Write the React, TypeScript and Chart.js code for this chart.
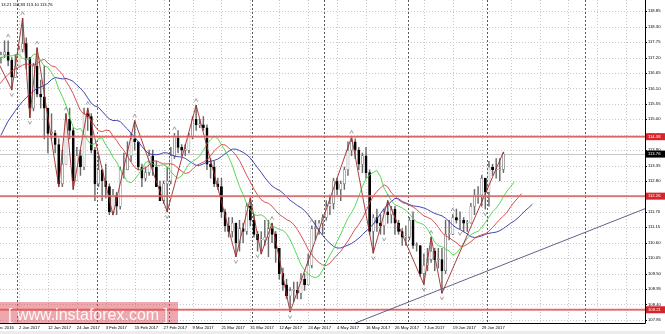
import React, { useEffect, useRef } from "react";
import { Chart, registerables } from "chart.js";

Chart.register(...registerables);

// ---------- data ----------
const FIRST_BAR = "14 Dec 2016";

const opens = [
  115.2, 117.1, 118.1, 117.9, 117.0,
  117.9, 117.5, 117.5, 117.2, 117.3, 117.4, 117.1, 116.5,
  116.9, 117.5, 117.7, 117.2, 115.4, 116.9, 115.9, 115.8, 115.4, 114.5,
  114.5, 114.1, 112.7, 113.4, 115.0, 114.6, 112.8, 113.7, 113.3, 115.2,
  115.1, 113.9, 112.7, 113.2, 112.8, 112.6, 111.7, 112.3, 111.9, 113.2,
  113.2, 113.7, 114.3, 114.2, 113.3, 112.9, 113.1, 113.7, 113.3, 112.6,
  112.1, 112.7, 112.8, 113.7, 114.4, 114.0, 113.9, 113.9, 114.4, 115.0,
  114.8, 114.8, 114.7, 113.4, 113.3, 112.7, 112.6, 111.7, 111.2, 111.0,
  111.3, 110.6, 111.1, 111.0, 111.9, 111.4, 110.9, 110.7, 110.7, 110.8,
  111.1, 110.9, 110.4, 109.5, 109.1, 108.7, 108.9, 108.9, 108.8, 109.3,
  109.1, 109.8, 111.1, 111.1, 111.3, 111.5, 111.9, 112.0, 112.8, 112.5,
  112.7, 113.2, 113.9, 114.2, 113.9, 113.4, 113.7, 113.1, 111.0, 111.5,
  111.3, 111.2, 111.7, 111.6, 111.8, 111.3, 111.0, 110.8, 110.8, 111.4,
  110.5, 110.5, 109.5, 109.8, 110.0, 110.3, 110.0, 110.0, 109.6, 110.9,
  110.9, 111.5, 111.4, 111.4, 111.3, 111.3, 111.9, 112.3, 112.3, 112.9,
  112.4, 113.3, 113.2, 113.2, 113.21,
];
const highs = [
  117.2, 118.66, 118.3, 118.0, 118.2,
  118.2, 117.8, 117.7, 117.4, 117.8, 117.8, 117.2, 117.3,
  117.6, 118.6, 117.9, 117.2, 117.0, 117.55, 116.4, 116.9, 115.4, 115.2,
  114.6, 114.3, 113.9, 115.2, 115.4, 114.7, 114.0, 113.9, 115.4, 115.4,
  115.2, 114.0, 113.7, 113.2, 113.4, 112.7, 112.5, 112.4, 113.3, 113.8,
  114.2, 114.5, 114.95, 114.2, 113.4, 113.3, 113.9, 113.9, 113.5, 112.8,
  112.8, 113.3, 114.0, 114.5, 114.6, 114.1, 114.1, 114.5, 115.1, 115.5,
  115.0, 115.1, 114.8, 113.6, 113.5, 112.9, 112.9, 111.8, 111.5, 111.5,
  111.3, 111.4, 111.3, 112.0, 112.2, 111.6, 111.0, 111.0, 111.4, 111.4,
  111.3, 111.0, 110.4, 109.7, 109.3, 109.0, 109.2, 109.2, 109.5, 109.5,
  110.2, 111.2, 111.4, 111.4, 111.6, 112.1, 112.3, 112.9, 112.9, 112.8,
  113.3, 114.2, 114.37, 114.3, 114.0, 113.8, 114.0, 113.2, 111.6, 111.8,
  111.6, 111.8, 112.1, 111.9, 111.9, 111.4, 111.1, 111.2, 111.5, 111.7,
  110.6, 110.5, 110.2, 110.4, 110.8, 110.4, 110.4, 110.4, 111.4, 111.4,
  111.6, 111.8, 111.7, 111.5, 111.4, 112.0, 112.5, 112.6, 113.0, 112.9,
  113.5, 113.4, 113.6, 113.6, 113.83,
];
const lows = [
  114.7, 117.0, 117.6, 116.6, 116.9,
  116.9, 117.3, 117.0, 117.0, 117.2, 116.9, 116.05, 116.5,
  116.9, 117.4, 116.8, 115.06, 115.3, 115.8, 115.4, 114.3, 113.8, 114.3,
  113.8, 112.6, 112.6, 113.4, 114.3, 112.5, 112.8, 113.0, 113.2, 114.6,
  113.8, 112.1, 112.6, 112.1, 112.2, 111.6, 111.59, 111.6, 111.8, 112.9,
  113.2, 113.5, 113.9, 113.2, 112.6, 112.8, 113.0, 113.0, 112.6, 112.1,
  112.0, 111.7, 112.7, 113.6, 113.8, 113.7, 113.7, 113.8, 114.3, 114.6,
  114.7, 114.6, 113.2, 112.9, 112.6, 112.5, 111.5, 111.0, 110.8, 110.8,
  110.1, 110.3, 110.6, 110.9, 111.2, 110.8, 110.3, 110.2, 110.5, 110.1,
  110.6, 109.9, 109.3, 108.9, 108.6, 108.13, 108.5, 108.6, 108.6, 108.9,
  109.1, 109.7, 110.7, 110.9, 110.9, 111.4, 111.6, 111.8, 112.3, 112.1,
  112.5, 113.0, 113.7, 113.6, 113.2, 113.1, 112.9, 110.9, 110.23, 111.0,
  110.9, 110.9, 111.3, 111.3, 110.9, 110.9, 110.5, 110.5, 110.7, 110.4,
  110.3, 109.4, 109.11, 109.6, 109.9, 109.6, 109.7, 108.8, 109.5, 110.7,
  110.9, 111.3, 111.1, 111.0, 111.0, 111.3, 111.6, 112.0, 111.9, 111.8,
  111.9, 113.0, 112.9, 112.8, 113.10,
];
const closes = [
  117.1, 118.1, 117.9, 117.0, 117.9,
  117.5, 117.5, 117.3, 117.3, 117.4, 117.1, 116.5, 116.9,
  117.5, 117.7, 117.2, 115.4, 116.9, 115.9, 115.8, 115.4, 114.5, 114.5,
  114.1, 112.7, 113.4, 115.0, 114.6, 112.8, 113.7, 113.3, 115.2, 115.1,
  113.9, 112.7, 113.2, 112.8, 112.6, 111.7, 112.3, 111.9, 113.2, 113.2,
  113.7, 114.3, 114.2, 113.3, 112.9, 113.1, 113.7, 113.3, 112.6, 112.1,
  112.7, 112.8, 113.7, 114.4, 114.0, 113.9, 113.9, 114.4, 115.0, 114.8,
  114.8, 114.7, 113.4, 113.3, 112.7, 112.6, 111.7, 111.2, 111.0, 111.3,
  110.6, 111.1, 111.0, 111.9, 111.4, 110.9, 110.7, 110.7, 110.8, 111.1,
  110.9, 110.4, 109.5, 109.1, 108.7, 108.9, 108.9, 108.8, 109.3, 109.1,
  109.8, 111.1, 111.1, 111.3, 111.5, 111.9, 112.0, 112.8, 112.5, 112.7,
  113.2, 113.9, 114.2, 113.9, 113.4, 113.7, 113.1, 111.0, 111.5, 111.3,
  111.2, 111.7, 111.6, 111.8, 111.3, 111.0, 110.8, 110.8, 111.4, 110.5,
  110.5, 109.5, 109.8, 110.0, 110.3, 110.0, 110.0, 109.6, 110.9, 110.9,
  111.5, 111.4, 111.4, 111.3, 111.3, 111.9, 112.3, 112.3, 112.9, 112.4,
  113.3, 113.2, 113.2, 113.2, 113.76,
];

const tickLabels = [
  "21 Dec 2016", "2 Jan 2017", "12 Jan 2017", "24 Jan 2017", "3 Feb 2017",
  "15 Feb 2017", "27 Feb 2017", "9 Mar 2017", "21 Mar 2017", "31 Mar 2017",
  "12 Apr 2017", "24 Apr 2017", "4 May 2017", "16 May 2017", "26 May 2017",
  "7 Jun 2017", "19 Jun 2017", "29 Jun 2017",
];
const priceTicks = [
  107.85, 108.4, 108.95, 109.5, 110.05, 110.6, 111.15, 111.7, 112.25, 112.8,
  113.35, 113.9, 114.45, 115.0, 115.55, 116.1, 116.65, 117.2, 117.75, 118.3, 118.85,
];
const levelPrices = [114.38, 112.26, 108.21];
const bidPrice = 113.76;
const headerText = "13.21 113.83 113.10 113.76";
const watermarkText = "[ www.instaforex.com ]";
const separatorDates = [
  "2 Jan 2017", "1 Feb 2017", "1 Mar 2017", "3 Apr 2017", "1 May 2017",
  "1 Jun 2017", "3 Jul 2017", "9 Aug 2017",
];

const zigzagDates = [
  "15 Dec 2016", "29 Dec 2016", "3 Jan 2017", "5 Jan 2017", "9 Jan 2017",
  "17 Jan 2017", "19 Jan 2017", "23 Jan 2017", "27 Jan 2017", "7 Feb 2017",
  "15 Feb 2017", "28 Feb 2017", "10 Mar 2017", "27 Mar 2017", "31 Mar 2017",
  "5 Apr 2017", "10 Apr 2017", "17 Apr 2017", "10 May 2017", "18 May 2017",
  "24 May 2017", "7 Jun 2017", "9 Jun 2017", "14 Jun 2017", "7 Jul 2017",
];
const zigzagPrices = [
  118.66, 116.05, 118.6, 115.06, 117.55,
  112.6, 115.2, 112.5, 115.4, 111.59,
  114.95, 111.7, 115.5, 110.1, 112.2,
  110.2, 111.3, 108.13, 114.37, 110.23,
  112.1, 109.11, 110.8, 108.8, 113.83,
];

const fractalUpDates = [
  "28 Dec 2016", "3 Jan 2017", "9 Jan 2017", "19 Jan 2017", "27 Jan 2017",
  "15 Feb 2017", "2 Mar 2017", "10 Mar 2017", "10 Apr 2017", "25 Apr 2017",
  "10 May 2017", "24 May 2017", "9 Jun 2017", "19 Jun 2017",
];
const fractalDownDates = [
  "29 Dec 2016", "5 Jan 2017", "28 Feb 2017", "27 Mar 2017", "4 Apr 2017",
  "17 Apr 2017", "18 May 2017", "23 May 2017", "7 Jun 2017", "14 Jun 2017",
  "21 Jun 2017", "30 Jun 2017",
];

const trendDates = ["22 May 2017", "7 Jul 2017"];
const trendPrices = [108.09, 109.82];

// Alligator (SMMA of median price) state before the first bar
const jawSeed = 114.3;
const teethSeed = 115.6;
const lipsSeed = 116.4;

// ---------- helpers ----------
const MONTHS = ["Jan", "Feb", "Mar", "Apr", "May", "Jun", "Jul", "Aug", "Sep", "Oct", "Nov", "Dec"];
function tradingDays(start: string, count: number): string[] {
  const [d, m, y] = start.split(" ");
  let t = Date.UTC(+y, MONTHS.indexOf(m), +d);
  const out: string[] = [];
  while (out.length < count) {
    const dt = new Date(t);
    const wd = dt.getUTCDay();
    if (wd !== 0 && wd !== 6) out.push(`${dt.getUTCDate()} ${MONTHS[dt.getUTCMonth()]} ${dt.getUTCFullYear()}`);
    t += 86400000;
  }
  return out;
}
const dates = tradingDays(FIRST_BAR, 220);
const idx = (d: string) => dates.indexOf(d);

function smma(vals: number[], n: number, seed: number): number[] {
  const out: number[] = [];
  let s = seed;
  for (const v of vals) {
    s = (s * (n - 1) + v) / n;
    out.push(s);
  }
  return out;
}

const FONT = "Liberation Sans";
const BAR_PX = 3.615;
const JAN2 = idx("2 Jan 2017");
const X_MIN = JAN2 - 19 / BAR_PX;
const X_MAX = X_MIN + 645 / BAR_PX;

export default function App() {
  const ref = useRef<HTMLCanvasElement | null>(null);

  useEffect(() => {
    const canvas = ref.current;
    if (!canvas) return;

    const med = highs.map((h, i) => (h + lows[i]) / 2);
    const jaw = smma(med, 13, jawSeed).map((v, i) => ({ x: i + 8, y: v }));
    const teeth = smma(med, 8, teethSeed).map((v, i) => ({ x: i + 5, y: v }));
    const lips = smma(med, 5, lipsSeed).map((v, i) => ({ x: i + 3, y: v }));

    const wicks = closes.map((_, i) => ({ x: i, y: [lows[i], highs[i]] }));
    const bodies = closes.map((c, i) => ({ x: i, y: [opens[i], c] }));
    const bull = closes.map((c, i) => c >= opens[i]);

    const zz = zigzagDates.map((d, i) => ({ x: idx(d), y: zigzagPrices[i] }));

    const tickIdx = tickLabels.map((t) => idx(t));

    const bgPlugin = {
      id: "bg",
      beforeDraw(chart: any) {
        const { ctx, width, height } = chart;
        ctx.save();
        ctx.fillStyle = "#ffffff";
        ctx.fillRect(0, 0, width, height);
        ctx.fillStyle = "#ececec";
        ctx.fillRect(0, 331, width, height - 331);
        ctx.restore();
      },
    };

    const gridPlugin = {
      id: "mtgrid",
      beforeDatasetsDraw(chart: any) {
        const { ctx, chartArea: a, scales } = chart;
        const xs = scales.x, ys = scales.y;
        ctx.save();
        ctx.beginPath();
        ctx.rect(a.left, a.top, a.right - a.left, a.bottom - a.top);
        ctx.clip();
        ctx.lineWidth = 1;
        ctx.strokeStyle = "#c8c8c8";
        ctx.setLineDash([1, 2]);
        for (const v of priceTicks) {
          const y = Math.round(ys.getPixelForValue(v)) + 0.5;
          ctx.beginPath();
          ctx.moveTo(a.left, y);
          ctx.lineTo(a.right, y);
          ctx.stroke();
        }
        for (let k = tickIdx[0]; k < X_MAX; k += 8) {
          const x = Math.round(xs.getPixelForValue(k)) + 0.5;
          ctx.beginPath();
          ctx.moveTo(x, a.top);
          ctx.lineTo(x, a.bottom);
          ctx.stroke();
        }
        ctx.strokeStyle = "#5a5a5a";
        ctx.setLineDash([2, 2]);
        for (const d of separatorDates) {
          const x = Math.round(xs.getPixelForValue(idx(d) - 0.5)) + 0.5;
          ctx.beginPath();
          ctx.moveTo(x, a.top);
          ctx.lineTo(x, a.bottom);
          ctx.stroke();
        }
        ctx.setLineDash([]);
        ctx.strokeStyle = "#c8c8c8";
        const by = Math.round(ys.getPixelForValue(bidPrice)) + 0.5;
        ctx.beginPath();
        ctx.moveTo(a.left, by);
        ctx.lineTo(a.right, by);
        ctx.stroke();
        ctx.restore();
      },
      afterDatasetsDraw(chart: any) {
        const { ctx, chartArea: a, scales } = chart;
        const xs = scales.x, ys = scales.y;
        ctx.save();
        ctx.beginPath();
        ctx.rect(a.left, a.top, a.right - a.left, a.bottom - a.top);
        ctx.clip();
        for (const p of levelPrices) {
          const y = ys.getPixelForValue(p);
          ctx.strokeStyle = "rgba(235,150,150,0.7)";
          ctx.lineWidth = 2.4;
          ctx.beginPath();
          ctx.moveTo(a.left, y);
          ctx.lineTo(a.right, y);
          ctx.stroke();
          ctx.strokeStyle = "#cc3b3b";
          ctx.lineWidth = 0.8;
          ctx.beginPath();
          ctx.moveTo(a.left, y);
          ctx.lineTo(a.right, y);
          ctx.stroke();
        }
        const i0 = idx(trendDates[0]), i1 = idx(trendDates[1]);
        const slope = (trendPrices[1] - trendPrices[0]) / (i1 - i0);
        const xa = X_MIN, xb = X_MAX;
        ctx.strokeStyle = "#50507a";
        ctx.lineWidth = 0.9;
        ctx.beginPath();
        ctx.moveTo(xs.getPixelForValue(xa), ys.getPixelForValue(trendPrices[0] + (xa - i0) * slope));
        ctx.lineTo(xs.getPixelForValue(xb), ys.getPixelForValue(trendPrices[0] + (xb - i0) * slope));
        ctx.stroke();
        ctx.strokeStyle = "#8a8a8a";
        ctx.lineWidth = 0.8;
        for (const d of fractalUpDates) {
          const i = idx(d);
          const x = xs.getPixelForValue(i);
          const y = ys.getPixelForValue(highs[i]) - 5;
          ctx.beginPath();
          ctx.moveTo(x - 1.7, y + 1.6);
          ctx.lineTo(x, y - 1.6);
          ctx.lineTo(x + 1.7, y + 1.6);
          ctx.stroke();
        }
        for (const d of fractalDownDates) {
          const i = idx(d);
          const x = xs.getPixelForValue(i);
          const y = ys.getPixelForValue(lows[i]) + 5;
          ctx.beginPath();
          ctx.moveTo(x - 1.7, y - 1.6);
          ctx.lineTo(x, y + 1.6);
          ctx.lineTo(x + 1.7, y - 1.6);
          ctx.stroke();
        }
        ctx.restore();

        ctx.save();
        ctx.strokeStyle = "#000";
        ctx.lineWidth = 1;
        ctx.beginPath();
        ctx.moveTo(a.right + 0.5, 0);
        ctx.lineTo(a.right + 0.5, a.bottom + 0.5);
        ctx.lineTo(0, a.bottom + 0.5);
        ctx.stroke();
        for (const v of priceTicks) {
          const y = Math.round(ys.getPixelForValue(v)) + 0.5;
          ctx.beginPath();
          ctx.moveTo(a.right, y);
          ctx.lineTo(a.right + 2, y);
          ctx.stroke();
        }
        ctx.font = `4.2px "${FONT}"`;
        ctx.textBaseline = "middle";
        const box = (p: number, bg: string) => {
          const y = ys.getPixelForValue(p);
          ctx.fillStyle = bg;
          ctx.fillRect(a.right + 1, y - 3.5, 20, 7);
          ctx.fillStyle = "#fff";
          ctx.fillText(p.toFixed(2), a.right + 3, y);
        };
        for (const p of levelPrices) box(p, "#d8232a");
        box(bidPrice, "#000");
        ctx.fillStyle = "#000";
        ctx.fillText(headerText, 1, 5);
        ctx.fillStyle = "rgba(222,80,90,0.5)";
        ctx.fillRect(0, 302, 178, 21);
        ctx.fillStyle = "rgba(255,255,255,0.92)";
        ctx.font = `16px "${FONT}"`;
        ctx.textBaseline = "alphabetic";
        ctx.fillText(watermarkText, 8, 320);
        ctx.restore();
      },
    };

    const chart = new Chart(canvas, {
      type: "bar",
      data: {
        datasets: [
          {
            type: "line",
            label: "zigzag",
            data: zz,
            borderColor: "#a02a2a",
            borderWidth: 0.9,
            pointRadius: 0,
            order: 0,
          } as any,
          {
            type: "line",
            label: "lips",
            data: lips,
            borderColor: "#44d444",
            borderWidth: 0.9,
            pointRadius: 0,
            order: 1,
          },
          {
            type: "line",
            label: "teeth",
            data: teeth,
            borderColor: "#d24040",
            borderWidth: 0.9,
            pointRadius: 0,
            order: 2,
          },
          {
            type: "line",
            label: "jaw",
            data: jaw,
            borderColor: "#3030aa",
            borderWidth: 0.9,
            pointRadius: 0,
            order: 3,
          },
          {
            type: "bar",
            label: "body",
            data: bodies,
            backgroundColor: bull.map((b) => (b ? "#ffffff" : "#000000")),
            borderColor: bull.map((b) => (b ? "#6a6a6a" : "#000000")),
            borderWidth: 0.6,
            borderSkipped: false,
            barThickness: 2.2,
            minBarLength: 1,
            grouped: false,
            order: 4,
          } as any,
          {
            type: "bar",
            label: "wick",
            data: wicks,
            backgroundColor: "#6a6a6a",
            barThickness: 0.8,
            grouped: false,
            order: 5,
          } as any,
        ],
      },
      options: {
        animation: false,
        responsive: false,
        devicePixelRatio: 1,
        layout: { padding: 0 },
        plugins: { legend: { display: false }, tooltip: { enabled: false } },
        scales: {
          x: {
            type: "linear",
            min: X_MIN,
            max: X_MAX,
            offset: false,
            grid: { display: false, drawTicks: false },
            border: { display: false },
            afterBuildTicks: (s: any) => {
              s.ticks = tickIdx.map((v) => ({ value: v }));
            },
            afterFit: (s: any) => {
              s.height = 11;
              s.paddingLeft = 0;
              s.paddingRight = 0;
            },
            ticks: {
              autoSkip: false,
              maxRotation: 0,
              minRotation: 0,
              align: "start",
              padding: 2,
              color: "#000",
              font: { family: FONT, size: 4.2 },
              callback: (v: any) => dates[Math.round(v)] || "",
            },
          },
          y: {
            type: "linear",
            position: "right",
            min: 107.738,
            max: 119.253,
            grid: { display: false, drawTicks: false },
            border: { display: false },
            afterBuildTicks: (s: any) => {
              s.ticks = priceTicks.map((v) => ({ value: v }));
            },
            afterFit: (s: any) => {
              s.width = 20;
              s.paddingTop = 0;
              s.paddingBottom = 0;
            },
            ticks: {
              autoSkip: false,
              padding: 3,
              color: "#000",
              font: { family: FONT, size: 4.2 },
              callback: (v: any) => Number(v).toFixed(2),
            },
          },
        },
      } as any,
      plugins: [bgPlugin, gridPlugin],
    });

    return () => chart.destroy();
  }, []);

  return (
    <div style={{ position: "absolute", left: 0, top: 0, width: 665, height: 334 }}>
      <canvas ref={ref} width={665} height={334} style={{ display: "block", width: 665, height: 334 }} />
    </div>
  );
}
